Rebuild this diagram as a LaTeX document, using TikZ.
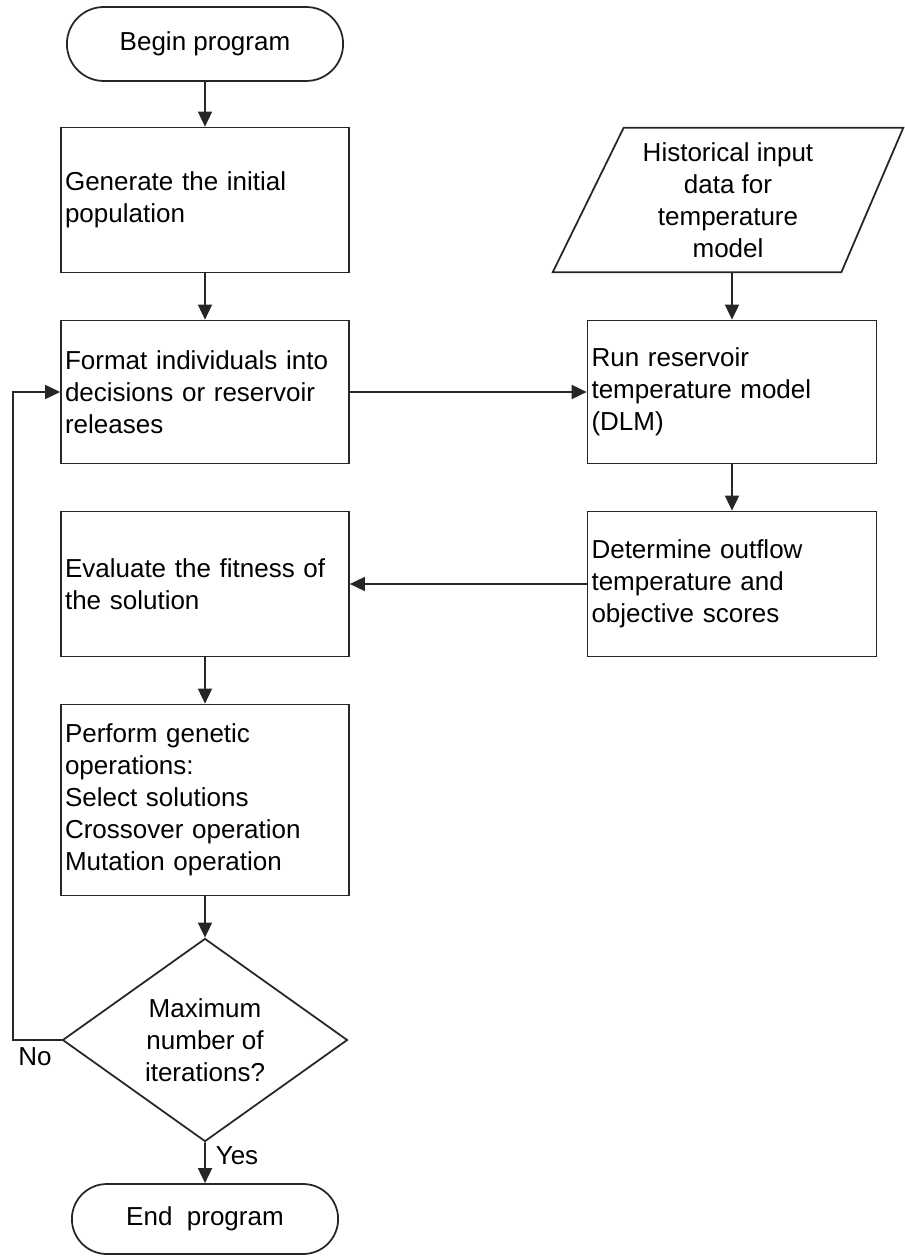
\documentclass[tikz,border=0pt]{standalone}
\usepackage{fontspec}
\setmainfont{Liberation Sans}
\usetikzlibrary{positioning, arrows.meta, calc, shapes.geometric, shapes.misc}

\begin{document}
\begin{tikzpicture}[x=0.02cm, y=-0.02cm, font=\fontsize{14.8pt}{18.2pt}\selectfont, >={Triangle[length=0.3cm, width=0.28cm]}]
                \tikzstyle{process} = [rectangle, draw=black!85, line width=1pt, minimum width=5.76cm, minimum height=2.9cm, text width=5.6cm, inner xsep=0.08cm, align=left]
                \tikzstyle{terminal} = [rounded rectangle, draw=black!85, line width=1pt, minimum width=5.76cm, minimum height=1.48cm]
                \tikzstyle{decision} = [diamond, draw=black!85, line width=1pt, minimum width=5.7cm, minimum height=3.8cm, align=center, inner sep=0pt]
                \tikzstyle{line} = [draw=black!85, line width=1pt, ->]

                \useasboundingbox (0,0) rectangle (904,1256);

                % Left column (main loop)
                \node[terminal] (begin) at (205,44) {Begin program};
                \node[process] (gen) at (205,200) {Generate the initial\\population};
                \node[process, minimum height=2.86cm] (fmt) at (205,392) {Format individuals into\\decisions or reservoir\\releases};
                \node[process] (eval) at (205,584) {Evaluate the fitness of\\the solution};
                \node[process, minimum height=3.82cm] (perf) at (205,800) {Perform genetic\\operations:\\Select solutions\\Crossover operation\\Mutation operation};
                \node[decision] (dec) at (205,1040) {Maximum\\number of\\iterations?};
                \node[terminal, minimum width=5.56cm, minimum height=1.4cm] (end) at (205,1219) {End\ \ program};

                % Right column (temperature model)
                \node[minimum width=7cm, minimum height=2.88cm, align=center] (hist) at (728,200) {Historical input\\data for\\temperature\\model};
                \draw[draw=black!85, line width=1pt] (hist.south west) -- ($(hist.south east)+(-62,0)$) -- (hist.north east) -- ($(hist.north west)+(71,0)$) -- cycle;
                \node[process, minimum width=5.78cm, minimum height=2.86cm, text width=5.62cm] (run) at (732,392) {Run reservoir\\temperature model\\(DLM)};
                \node[process, minimum width=5.78cm, text width=5.62cm] (det) at (732,584) {Determine outflow\\temperature and\\objective scores};

                % Labels
                \node (no) at (35,1057) {No};
                \node (yes) at (237,1156) {Yes};
                \coordinate (back) at (13,1040);

                % Arrows
                \draw[line] (begin) -- (gen);
                \draw[line] (gen) -- (fmt);
                \draw[line] (fmt) -- (run);
                \draw[line] (run.north |- hist.south) -- (run);
                \draw[line] (run) -- (det);
                \draw[line] (det) -- (eval);
                \draw[line] (eval) -- (perf);
                \draw[line] (perf) -- (dec);
                \draw[line] (dec) -- (end);
                \draw[line] (dec.west) -- (back) |- (fmt.west);
            \end{tikzpicture}
\end{document}
